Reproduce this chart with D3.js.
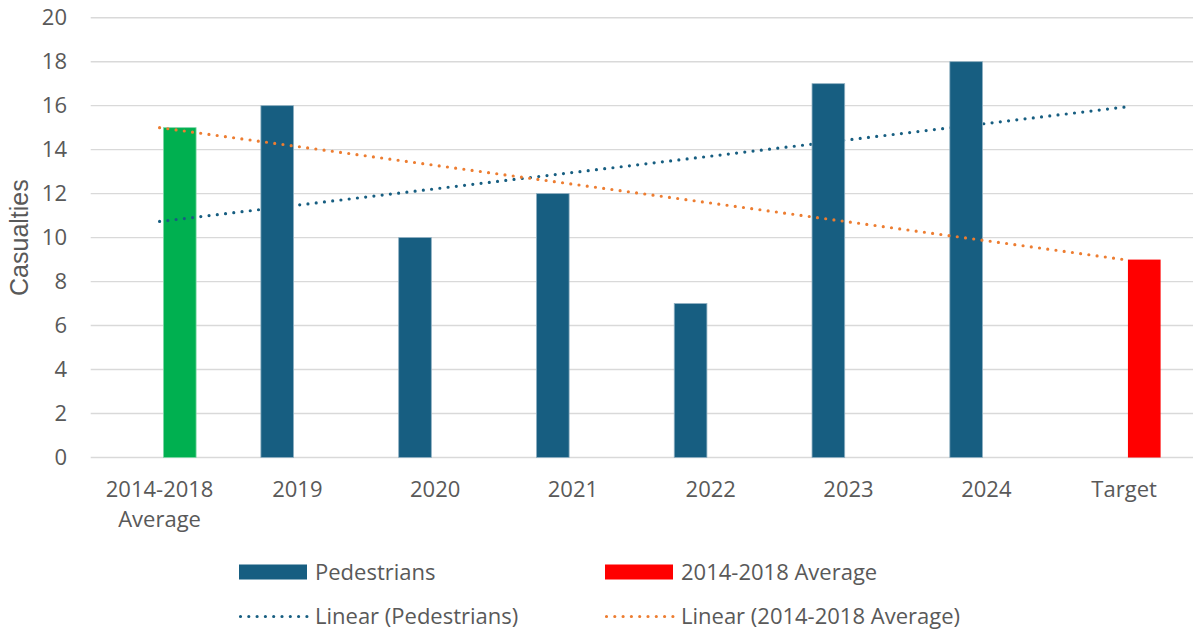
<!DOCTYPE html>
<html>
<head>
<meta charset="utf-8">
<script src="https://cdn.jsdelivr.net/npm/d3@7"></script>
<style>
  html, body { margin: 0; padding: 0; background: #ffffff; }
  svg { display: block; }
  text { font-family: "Open Sans", "Liberation Sans", sans-serif; fill: #595959; }
</style>
</head>
<body>
<svg id="chart" width="1198" height="632"></svg>
<script>
// Categories along the x axis (label lines split for wrapping)
const categories = ["2014-2018 Average", "2019", "2020", "2021", "2022", "2023", "2024", "Target"];
const categoryLines = [["2014-2018", "Average"], ["2019"], ["2020"], ["2021"], ["2022"], ["2023"], ["2024"], ["Target"]];

// Series values (null = no bar in that category)
const pedestrians = [null, 16, 10, 12, 7, 17, 18, null];
const average = [15, null, null, null, null, null, null, 9];
// Per-point colours of the "2014-2018 Average" series
const averageColors = ["#00B050", null, null, null, null, null, null, "#FF0000"];

const yTicks = [0, 2, 4, 6, 8, 10, 12, 14, 16, 18, 20];

const seriesKeys = ["Pedestrians", "2014-2018 Average"];
const pedColor = "#175E81";
const avgLegendColor = "#FF0000";
const pedTrendColor = "#175E81";
const avgTrendColor = "#ED7D31";

const svg = d3.select("#chart");
const plot = { left: 90.7, right: 1193, top: 17.7, bottom: 457.5 };
const fontSize = 22;

const x = d3.scaleBand().domain(categories).range([plot.left, plot.right]).paddingInner(0).paddingOuter(0);
const y = d3.scaleLinear().domain([0, 20]).range([plot.bottom, plot.top]);
const inner = d3.scaleBand().domain(seriesKeys).range([-36.5, 36.5]).paddingInner(0.19);
const cx = c => x(c) + x.bandwidth() / 2;

// Gridlines
svg.append("g").selectAll("line").data(yTicks).join("line")
  .attr("x1", plot.left).attr("x2", plot.right)
  .attr("y1", d => y(d)).attr("y2", d => y(d))
  .attr("stroke", "#d9d9d9").attr("stroke-width", 1.4);

// Y axis tick labels
const yAxis = d3.axisLeft(y).tickValues(yTicks).tickSize(0).tickPadding(0);
const yg = svg.append("g").attr("transform", `translate(67,0)`).call(yAxis);
yg.select(".domain").remove();
yg.selectAll("text").attr("font-size", fontSize).attr("fill", "#595959")
  .style("font-family", "'Open Sans', 'Liberation Sans', sans-serif");

// Y axis title
svg.append("text")
  .attr("transform", `translate(28,${(plot.top + plot.bottom) / 2}) rotate(-90)`)
  .attr("text-anchor", "middle").attr("font-size", 25)
  .style("font-family", "'Liberation Sans', Arial, sans-serif")
  .text("Casualties");

// X axis labels
const xl = svg.append("g").selectAll("text").data(categories).join("text")
  .attr("x", d => cx(d)).attr("y", 497)
  .attr("text-anchor", "middle").attr("font-size", fontSize);
xl.each(function(d, i) {
  d3.select(this).selectAll("tspan").data(categoryLines[i]).join("tspan")
    .attr("x", cx(d)).attr("dy", (t, j) => j === 0 ? 0 : 30).text(t => t);
});

// Least-squares trend line over the points present in a series (x = 1..n)
function linearFit(values) {
  const pts = values.map((v, i) => [i + 1, v]).filter(p => p[1] != null);
  const mx = d3.mean(pts, p => p[0]), my = d3.mean(pts, p => p[1]);
  const sxy = d3.sum(pts, p => (p[0] - mx) * (p[1] - my));
  const sxx = d3.sum(pts, p => (p[0] - mx) ** 2);
  const slope = sxy / sxx;
  return xi => my + slope * (xi - mx);
}
const pedFit = linearFit(pedestrians);
const avgFit = linearFit(average);
const trendLine = d3.line().x(d => cx(categories[d[0] - 1])).y(d => y(d[1]));
const ends = [1, categories.length];

function drawTrend(fit, color) {
  svg.append("path")
    .datum(ends.map(e => [e, fit(e)]))
    .attr("d", trendLine)
    .attr("fill", "none").attr("stroke", color)
    .attr("stroke-width", 3.2).attr("stroke-linecap", "round")
    .attr("stroke-dasharray", "0 8.3");
}

// "2014-2018 Average" bars
svg.append("g").selectAll("rect")
  .data(average.map((v, i) => ({ c: categories[i], v, color: averageColors[i] })).filter(d => d.v != null))
  .join("rect")
  .attr("x", d => cx(d.c) + inner("2014-2018 Average"))
  .attr("width", inner.bandwidth())
  .attr("y", d => y(d.v)).attr("height", d => y(0) - y(d.v))
  .attr("fill", d => d.color)
  .attr("stroke", d => d.color === "#00B050" ? "#7fd8a8" : "none")
  .attr("stroke-width", 0.8);

// Pedestrians trend, then bars on top
drawTrend(pedFit, pedTrendColor);

svg.append("g").selectAll("rect")
  .data(pedestrians.map((v, i) => ({ c: categories[i], v })).filter(d => d.v != null))
  .join("rect")
  .attr("x", d => cx(d.c) + inner("Pedestrians"))
  .attr("width", inner.bandwidth())
  .attr("y", d => y(d.v)).attr("height", d => y(0) - y(d.v))
  .attr("fill", pedColor)
  .attr("stroke", "#8fb0c2").attr("stroke-width", 0.8);

drawTrend(avgFit, avgTrendColor);

// Legend
const legend = svg.append("g");
const legendItems = [
  { x: 239, row: 0, type: "rect", color: pedColor, label: "Pedestrians" },
  { x: 605, row: 0, type: "rect", color: avgLegendColor, label: "2014-2018 Average" },
  { x: 239, row: 1, type: "line", color: pedTrendColor, label: "Linear (Pedestrians)" },
  { x: 605, row: 1, type: "line", color: avgTrendColor, label: "Linear (2014-2018 Average)" }
];
const rowY = [572, 616.5];
legendItems.forEach(it => {
  const yy = rowY[it.row];
  if (it.type === "rect") {
    legend.append("rect").attr("x", it.x).attr("y", yy - 7.5).attr("width", 68).attr("height", 15)
      .attr("fill", it.color);
  } else {
    legend.append("line").attr("x1", it.x + 1.5).attr("x2", it.x + 68).attr("y1", yy).attr("y2", yy)
      .attr("stroke", it.color).attr("stroke-width", 3.2).attr("stroke-linecap", "round")
      .attr("stroke-dasharray", "0 8.3");
  }
  legend.append("text").attr("x", it.x + 76).attr("y", yy + 7.8)
    .attr("font-size", fontSize).text(it.label);
});
</script>
</body>
</html>
